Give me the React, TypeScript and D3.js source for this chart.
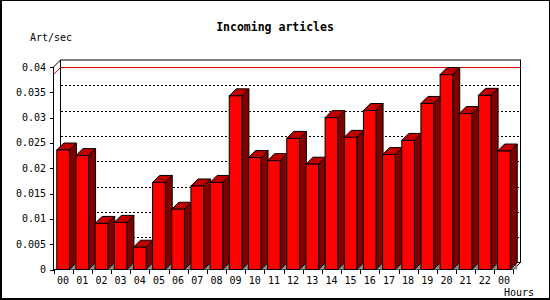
import React from "react";
import * as d3 from "d3";

const hours = ["00","01","02","03","04","05","06","07","08","09","10","11","12","13","14","15","16","17","18","19","20","21","22","23"];
const hourLabels = ["00","01","02","03","04","05","06","07","08","09","10","11","12","13","14","15","16","17","18","19","20","21","22","00"];
const rates = [0.0236,0.0225,0.0091,0.0093,0.0044,0.0172,0.0119,0.0165,0.0172,0.0343,0.0221,0.0215,0.0259,0.0208,0.0300,0.0261,0.0314,0.0227,0.0255,0.0328,0.0385,0.0308,0.0344,0.0234];
const yTicks = [0,0.005,0.01,0.015,0.02,0.025,0.03,0.035,0.04];
const yTickLabels = ["0","0.005","0.01","0.015","0.02","0.025","0.03","0.035","0.04"];

const W = 550, H = 300;
const D = 7;
const FONT = "'DejaVu Sans Mono', monospace";

export default function App() {
  const x = d3.scaleBand<string>().domain(hours).range([53.5, 513.5]).padding(0);
  const y = d3.scaleLinear().domain([0, 0.04]).range([269.5, 67]);
  const bw = x.bandwidth() * 0.66;
  const x0 = 53.5, x1 = 513.5, yb = y(0), yt = y(0.04);
  const maxV = d3.max(rates) as number;
  const ym = y(maxV);

  return (
    <div style={{ position: "absolute", left: 0, top: 0 }}>
      <svg width={W} height={H} style={{ display: "block" }}>
        <rect x={0} y={0} width={W} height={H} fill="#fff" />
        {/* back wall */}
        <rect x={x0 + D} y={yt - D} width={x1 - x0} height={yb - yt} fill="#fff" stroke="#000" strokeWidth={1} />
        {/* gridlines on back wall */}
        {yTicks.slice(1, -1).map((t, i) => (
          <line key={i} x1={x0 + D} x2={x1 + D} y1={Math.round(y(t) - D) + 0.5} y2={Math.round(y(t) - D) + 0.5}
            stroke="#000" strokeDasharray="2,2" shapeRendering="crispEdges" />
        ))}
        {/* max line */}
        <line x1={x0 + D} x2={x1 + D} y1={ym - D} y2={ym - D} stroke="#e00000" shapeRendering="crispEdges" />
        <line x1={x0} y1={ym} x2={x0 + D} y2={ym - D} stroke="#e00000" />
        {/* front axes */}
        <line x1={x0} y1={yt} x2={x0} y2={yb} stroke="#000" shapeRendering="crispEdges" />
        <line x1={x0} y1={yt} x2={x0 + D} y2={yt - D} stroke="#000" />
        <line x1={x0} y1={yb} x2={x1} y2={yb} stroke="#000" shapeRendering="crispEdges" />
        <line x1={x1} y1={yb} x2={x1 + D} y2={yb - D} stroke="#000" />
        {/* y ticks */}
        {yTicks.map((t, i) => (
          <g key={i}>
            <line x1={x0 - 4} x2={x0} y1={Math.round(y(t)) + 0.5} y2={Math.round(y(t)) + 0.5} stroke="#000" shapeRendering="crispEdges" />
            <text x={46} y={y(t) + 3.5} textAnchor="end" fontFamily={FONT} fontSize={10} fill="#000">{yTickLabels[i]}</text>
          </g>
        ))}
        {/* x ticks */}
        {hours.map((h, i) => (
          <line key={i} x1={Math.round(x(h) as number) + 0.5} x2={Math.round(x(h) as number) + 0.5} y1={yb} y2={yb + 4} stroke="#000" shapeRendering="crispEdges" />
        ))}
        <line x1={x1} x2={x1} y1={yb} y2={yb + 4} stroke="#000" shapeRendering="crispEdges" />
        {/* bars */}
        {hours.map((h, i) => {
          const bx = (x(h) as number) + (x.bandwidth() - bw) / 2;
          const bx2 = bx + bw;
          const top = y(rates[i]);
          return (
            <g key={i} stroke="#000" strokeWidth={1} strokeLinejoin="miter">
              <polygon points={`${bx2},${yb} ${bx2 + D},${yb - D} ${bx2 + D},${yb}`} fill="#8c8c8c" stroke="none" />
              <polygon points={`${bx2},${top} ${bx2 + D},${top - D} ${bx2 + D},${yb - D} ${bx2},${yb}`} fill="#800000" />
              <polygon points={`${bx},${top} ${bx + D},${top - D} ${bx2 + D},${top - D} ${bx2},${top}`} fill="#c00000" />
              <rect x={bx} y={top} width={bw} height={yb - top} fill="#ff0000" />
            </g>
          );
        })}
        {/* x labels */}
        {hours.map((h, i) => (
          <text key={i} x={(x(h) as number) + x.bandwidth() / 2} y={283.5} textAnchor="middle" fontFamily={FONT} fontSize={10} fill="#000">{hourLabels[i]}</text>
        ))}
        {/* titles */}
        <text x={275} y={30.5} textAnchor="middle" fontFamily={FONT} fontWeight="bold" fontSize={11.5} fill="#000">Incoming articles</text>
        <text x={30} y={41} fontFamily={FONT} fontSize={10} fill="#000">Art/sec</text>
        <text x={504} y={295.5} fontFamily={FONT} fontSize={10} fill="#000">Hours</text>
        {/* frame */}
        <rect x={0} y={0} width={2} height={H} fill="#000" />
        <rect x={0} y={298} width={W} height={2} fill="#000" />
        <rect x={0} y={0} width={W} height={1} fill="#000" />
        <rect x={549} y={0} width={1} height={H} fill="#000" />
      </svg>
    </div>
  );
}
